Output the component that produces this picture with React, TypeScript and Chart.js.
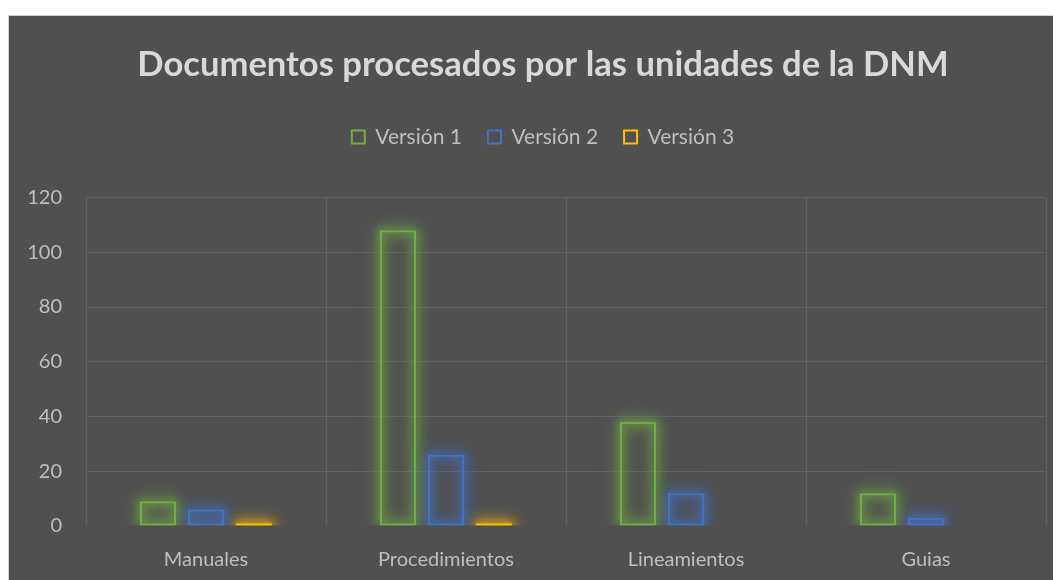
import React, { useEffect, useRef } from 'react';
import { Chart, registerables } from 'chart.js';

Chart.register(...registerables);

const categories = ['Manuales', 'Procedimientos', 'Lineamientos', 'Guias'];
const seriesNames = ['Versión 1', 'Versión 2', 'Versión 3'];
const version1 = [9, 108, 38, 12];
const version2 = [6, 26, 12, 3];
const version3 = [1, 1, 0, 0];
const yMin = 0;
const yMax = 120;
const yStep = 20;
const titleText = 'Documentos procesados por las unidades de la DNM';

const seriesColors = ['#70AD47', '#4472C4', '#FFC000'];
const glowRgb = ['112,173,71', '68,114,196', '255,192,0'];

const glowPlugin = {
  id: 'barGlow',
  beforeDatasetsDraw(chart: any) {
    const ctx = chart.ctx;
    const off = 5000;
    chart.data.datasets.forEach((ds: any, di: number) => {
      const meta = chart.getDatasetMeta(di);
      if (meta.hidden) return;
      meta.data.forEach((el: any, i: number) => {
        const v = ds.data[i];
        if (!v) return;
        const { x, y, base, width } = el.getProps(['x', 'y', 'base', 'width'], true);
        const top = Math.min(y, base);
        const h = Math.abs(base - y);
        ctx.save();
        ctx.beginPath();
        ctx.rect(x - width / 2 - 24, top - 24, width + 48, h + 24);
        ctx.clip();
        ctx.shadowOffsetX = off;
        ctx.shadowOffsetY = 0;
        ctx.strokeStyle = `rgba(${glowRgb[di]},1)`;
        [[16, 8, 0.6], [10, 6, 0.45], [6, 3, 0.35]].forEach(([blur, lw, a]) => {
          ctx.shadowColor = `rgba(${glowRgb[di]},${a})`;
          ctx.shadowBlur = blur;
          ctx.lineWidth = lw;
          ctx.strokeRect(x - off - width / 2 + 1, top + 1, width - 2, Math.max(h - 2, 1));
        });
        ctx.restore();
      });
    });
  },
};

const legendSpacePlugin = {
  id: 'legendSpace',
  beforeInit(chart: any) {
    const legend = chart.legend;
    if (!legend) return;
    const orig = legend.fit;
    legend.fit = function () {
      orig.call(this);
      this.height += 40;
    };
  },
};

export default function App() {
  const ref = useRef<HTMLCanvasElement | null>(null);

  useEffect(() => {
    if (!ref.current) return;
    const font = { family: 'Lato', size: 20 };
    const chart = new Chart(ref.current, {
      type: 'bar',
      data: {
        labels: categories,
        datasets: [version1, version2, version3].map((d, i) => ({
          label: seriesNames[i],
          data: d,
          backgroundColor: 'rgba(0,0,0,0)',
          borderColor: seriesColors[i],
          borderWidth: 2,
          borderSkipped: false,
          categoryPercentage: 0.6,
          barPercentage: 0.75,
        })),
      },
      options: {
        responsive: false,
        animation: false,
        devicePixelRatio: 1,
        layout: { padding: { left: 0, right: 0, top: 0, bottom: 30 } },
        plugins: {
          title: {
            display: true,
            text: titleText,
            color: '#d9d9d9',
            font: { family: 'Lato', size: 34.6, weight: 'bold' },
            padding: { top: 28, bottom: 15 },
          },
          legend: {
            display: true,
            position: 'top',
            labels: {
              color: '#bfbfbf',
              font: { family: 'Lato', size: 21 },
              boxWidth: 13,
              boxHeight: 13,
              padding: 26,
            },
          },
          tooltip: { enabled: false },
        },
        scales: {
          x: {
            grid: { color: '#616161', offset: true, drawTicks: false, lineWidth: 1 },
            border: { display: false },
            ticks: { color: '#bfbfbf', font, padding: 22 },
            afterFit: (s: any) => { s.height = 60; },
          },
          y: {
            min: yMin,
            max: yMax,
            grid: {
              color: (c: any) => (c.tick && c.tick.value === 0 ? 'rgba(0,0,0,0)' : '#616161'),
              drawTicks: false,
            },
            border: { display: false },
            ticks: { stepSize: yStep, color: '#bfbfbf', font, padding: 24 },
            afterFit: (s: any) => { s.width = 77; },
          },
          yRight: {
            type: 'linear',
            position: 'right',
            display: true,
            grid: { display: false, drawTicks: false },
            border: { display: false },
            ticks: { display: false },
            afterFit: (s: any) => { s.width = 31; },
          },
        },
      },
      plugins: [legendSpacePlugin, glowPlugin],
    } as any);
    return () => chart.destroy();
  }, []);

  return (
    <div style={{ width: 1053, height: 572, overflow: 'hidden', position: 'relative' }}>
      <div
        style={{
          position: 'absolute',
          left: 0,
          top: 7,
          width: 1068,
          height: 600,
          background: '#505050',
          border: '1px solid #d0d0d0',
        }}
      >
        <canvas ref={ref} width={1068} height={600} style={{ display: 'block', width: 1068, height: 600 }} />
      </div>
    </div>
  );
}
